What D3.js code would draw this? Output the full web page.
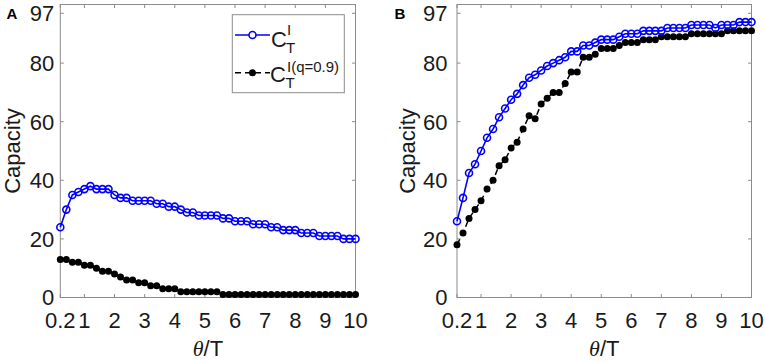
<!DOCTYPE html>
<html><head><meta charset="utf-8">
<script src="https://cdn.jsdelivr.net/npm/d3@7"></script>
<style>
html,body{margin:0;padding:0;background:#fff;}
svg{display:block;}
text{font-family:"Liberation Sans",Arial,Helvetica,sans-serif;}
</style></head>
<body>
<script>
// ---- data ----
const theta = [0.2,0.4,0.6,0.8,1.0,1.2,1.4,1.6,1.8,2.0,2.2,2.4,2.6,2.8,3.0,3.2,3.4,3.6,3.8,4.0,
  4.2,4.4,4.6,4.8,5.0,5.2,5.4,5.6,5.8,6.0,6.2,6.4,6.6,6.8,7.0,7.2,7.4,7.6,7.8,8.0,
  8.2,8.4,8.6,8.8,9.0,9.2,9.4,9.6,9.8,10.0];
const capIA = [24,30,35,36,37,38,37,37,37,35,34,34,33,33,33,33,32,32,31,31,
  30,29,29,28,28,28,28,27,27,26,26,26,25,25,25,24,24,23,23,23,
  22,22,22,21,21,21,21,20,20,20];
const capQA = [13,13,12,12,11,11,10,9,9,8,7,6,6,5,5,4,4,3,3,3,
  2,2,2,2,2,2,2,1,1,1,1,1,1,1,1,1,1,1,1,1,
  1,1,1,1,1,1,1,1,1,1];
const capIB = [26,34,42.5,45.5,50,54.5,57.5,61.5,64.5,67.5,69.5,72.5,75,76,77.5,79,80,81,82,84,
  84,86,86,87,88,88,88,89,90,90,90,91,91,91,91,92,92,92,92,93,
  93,93,93,92,93,93,93,94,94,94];
const capQB = [18,22,27,30,33,37,40,45,47,51,53,57.5,62,61,66,68,70,70,73,77,
  77,82,82,83,85,85,85,86,87,87,87,88,88,88,89,89,89,89,89,90,
  90,90,90,90,90,91,91,91,91,91];
const xTicks = [0.2,1,2,3,4,5,6,7,8,9,10];
const xTickLabels = ["0.2","1","2","3","4","5","6","7","8","9","10"];
const yTicks = [0,20,40,60,80,97];
const panelNames = ["A","B"];

// ---- layout ----
const W = 765, H = 362;
const svg = d3.select("body").append("svg").attr("width", W).attr("height", H);
const axisGray = "#8c8c8c", textCol = "#1a1a1a";
const panels = [
  {name: panelNames[0], l: 60.3, r: 355.5, t: 4.5, b: 297.5, ci: capIA, cq: capQA, nameX: 6.5, yLabX: 19.5, tickGap: 6},
  {name: panelNames[1], l: 457, r: 751.5, t: 4.5, b: 297.5, ci: capIB, cq: capQB, nameX: 394.5, yLabX: 415, tickGap: 9.5}
];

panels.forEach(p => {
  const x = d3.scaleLinear().domain([0.2, 10]).range([p.l, p.r]);
  const y = d3.scaleLinear().domain([0, 100]).range([p.b, p.t]);
  const g = svg.append("g");
  const tl = 3.5;

  // box
  g.append("rect").attr("x", p.l).attr("y", p.t).attr("width", p.r - p.l).attr("height", p.b - p.t)
    .attr("fill", "none").attr("stroke", axisGray).attr("stroke-width", 1);

  // ticks (inward, all sides)
  xTicks.forEach(v => {
    g.append("line").attr("x1", x(v)).attr("x2", x(v)).attr("y1", p.b).attr("y2", p.b - tl).attr("stroke", axisGray);
    g.append("line").attr("x1", x(v)).attr("x2", x(v)).attr("y1", p.t).attr("y2", p.t + tl).attr("stroke", axisGray);
  });
  yTicks.forEach(v => {
    g.append("line").attr("x1", p.l).attr("x2", p.l + tl).attr("y1", y(v)).attr("y2", y(v)).attr("stroke", axisGray);
    g.append("line").attr("x1", p.r).attr("x2", p.r - tl).attr("y1", y(v)).attr("y2", y(v)).attr("stroke", axisGray);
  });

  // tick labels
  g.selectAll(".xt").data(xTicks).enter().append("text")
    .attr("x", d => x(d)).attr("y", 328).attr("text-anchor", "middle")
    .attr("font-size", 22).attr("fill", textCol).text((d, i) => xTickLabels[i]);
  g.selectAll(".yt").data(yTicks).enter().append("text")
    .attr("x", p.l - p.tickGap).attr("y", d => y(d)).attr("dy", "0.36em").attr("text-anchor", "end")
    .attr("font-size", 22).attr("fill", textCol).text(d => d);

  // axis labels
  g.append("text").attr("transform", `translate(${p.yLabX},${(p.t + p.b) / 2}) rotate(-90)`)
    .attr("text-anchor", "middle").attr("font-size", 22).attr("fill", textCol).text("Capacity");
  const xl = g.append("text").attr("x", (p.l + p.r) / 2).attr("y", 356).attr("text-anchor", "middle")
    .attr("font-size", 22).attr("fill", textCol);
  xl.append("tspan").attr("font-family", "Liberation Serif, serif").attr("font-style", "italic").text("θ");
  xl.append("tspan").text("/T");

  // panel letter
  g.append("text").attr("x", p.nameX).attr("y", 18.5).attr("font-size", 15).attr("font-weight", "bold")
    .attr("fill", "#000").text(p.name);

  // series
  const line = d3.line().x((d, i) => x(theta[i])).y(d => y(d));
  g.append("path").datum(p.cq).attr("d", line).attr("fill", "none").attr("stroke", "#000")
    .attr("stroke-width", 1.5).attr("stroke-dasharray", "6,4");
  g.selectAll(".mq").data(p.cq).enter().append("circle")
    .attr("cx", (d, i) => x(theta[i])).attr("cy", d => y(d)).attr("r", 3.5).attr("fill", "#000");
  g.append("path").datum(p.ci).attr("d", line).attr("fill", "none").attr("stroke", "#0000ff")
    .attr("stroke-width", 1.6);
  g.selectAll(".mi").data(p.ci).enter().append("circle")
    .attr("cx", (d, i) => x(theta[i])).attr("cy", d => y(d)).attr("r", 3.5)
    .attr("fill", "none").attr("stroke", "#0000ff").attr("stroke-width", 1.6);
});

// ---- legend (panel A) ----
const lg = svg.append("g");
lg.append("rect").attr("x", 232.3).attr("y", 14.7).attr("width", 112).attr("height", 78)
  .attr("fill", "#fff").attr("stroke", axisGray).attr("stroke-width", 1);
// entry 1
lg.append("line").attr("x1", 235).attr("x2", 270).attr("y1", 35).attr("y2", 35)
  .attr("stroke", "#0000ff").attr("stroke-width", 1.6);
lg.append("circle").attr("cx", 252.5).attr("cy", 35).attr("r", 3.5).attr("fill", "#fff")
  .attr("stroke", "#0000ff").attr("stroke-width", 1.6);
lg.append("text").attr("x", 271).attr("y", 46.5).attr("font-size", 22).attr("fill", textCol).text("C");
lg.append("text").attr("x", 287).attr("y", 35).attr("font-size", 15).attr("fill", textCol).text("I");
lg.append("text").attr("x", 286).attr("y", 53).attr("font-size", 15).attr("fill", textCol).text("T");
// entry 2
lg.append("line").attr("x1", 235).attr("x2", 270).attr("y1", 72.7).attr("y2", 72.7)
  .attr("stroke", "#000").attr("stroke-width", 1.5).attr("stroke-dasharray", "6,4");
lg.append("circle").attr("cx", 252.5).attr("cy", 72.7).attr("r", 3.5).attr("fill", "#000");
lg.append("text").attr("x", 270).attr("y", 81.5).attr("font-size", 22).attr("fill", textCol).text("C");
lg.append("text").attr("x", 287).attr("y", 72).attr("font-size", 15).attr("fill", textCol).text("I(q=0.9)");
lg.append("text").attr("x", 285.5).attr("y", 88).attr("font-size", 15).attr("fill", textCol).text("T");
</script>
</body></html>
